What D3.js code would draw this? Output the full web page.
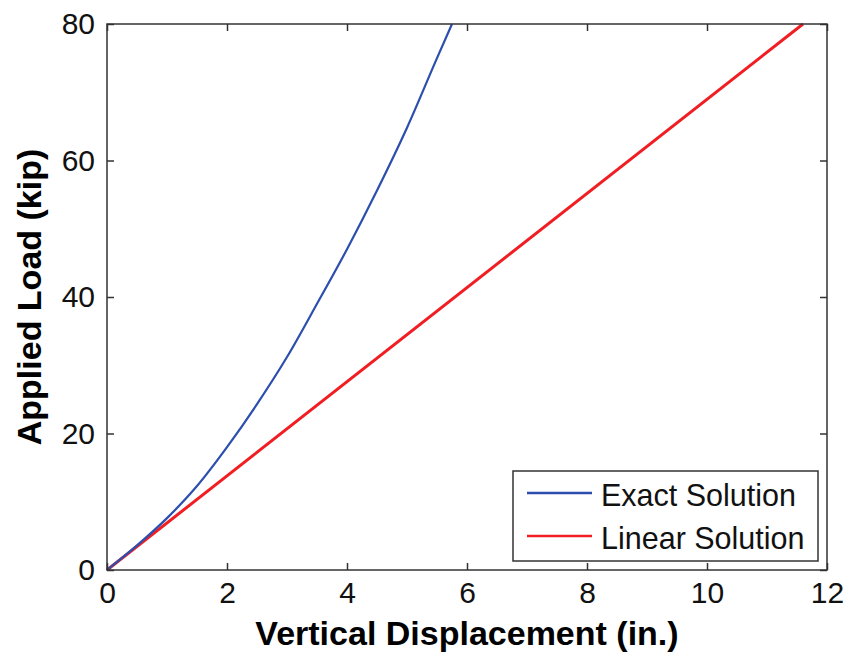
<!DOCTYPE html>
<html>
<head>
  <meta charset="utf-8">
  <script src="https://d3js.org/d3.v7.min.js"></script>
  <style>
    body { margin: 0; }
    svg { display: block; }
  </style>
</head>
<body>
<svg width="848" height="655"></svg>

<script>
// data
var exactX = [0, 0.5, 1.0, 1.5, 2.0, 2.5, 3.0, 3.5, 4.0, 4.5, 5.0, 5.5, 5.75];
var exactLoad = [0, 3.6, 7.6, 12.3, 18.0, 24.3, 31.2, 39.0, 47.0, 55.6, 64.8, 75.0, 80.0];
var linearX = [0, 11.6];
var linearLoad = [0, 80];
var xTicks = [0, 2, 4, 6, 8, 10, 12];
var yTicks = [0, 20, 40, 60, 80];
var seriesNames = ["Exact Solution", "Linear Solution"];
var seriesColors = ["#2c4fae", "#f01e23"];

var svg = d3.select("svg");
var plotL = 107, plotR = 827, plotT = 24, plotB = 570;
var font = "'Liberation Sans', Arial, sans-serif";

var x = d3.scaleLinear().domain([0, 12]).range([plotL, plotR]);
var y = d3.scaleLinear().domain([0, 80]).range([plotB, plotT]);

svg.append("rect").attr("width", 848).attr("height", 655).attr("fill", "white");

// lines
var line = d3.line()
  .x(function(d){ return x(d[0]); })
  .y(function(d){ return y(d[1]); });

var exactData = exactX.map(function(v, i){ return [v, exactLoad[i]]; });
var linearData = linearX.map(function(v, i){ return [v, linearLoad[i]]; });

svg.append("path").datum(linearData)
  .attr("d", line)
  .attr("fill", "none")
  .attr("stroke", seriesColors[1])
  .attr("stroke-width", 3);

svg.append("path").datum(exactData)
  .attr("d", line.curve(d3.curveMonotoneX))
  .attr("fill", "none")
  .attr("stroke", seriesColors[0])
  .attr("stroke-width", 2.2);

// axes - ticks pointing inward on all four sides
function styleAxis(g) {
  g.selectAll("path").remove();
  g.selectAll("line").attr("stroke", "#333").attr("stroke-width", 1.5);
  g.selectAll("text").attr("font-family", font).attr("font-size", "30px").attr("fill", "#111");
}

svg.append("g").attr("transform", "translate(0," + plotB + ")")
  .call(d3.axisBottom(x).tickValues(xTicks).tickSize(-7).tickPadding(12).tickFormat(d3.format("d")))
  .call(styleAxis);
svg.append("g").attr("transform", "translate(0," + plotT + ")")
  .call(d3.axisTop(x).tickValues(xTicks).tickSize(-7).tickFormat(""))
  .call(styleAxis);
svg.append("g").attr("transform", "translate(" + plotL + ",0)")
  .call(d3.axisLeft(y).tickValues(yTicks).tickSize(-7).tickPadding(12).tickFormat(d3.format("d")))
  .call(styleAxis);
svg.append("g").attr("transform", "translate(" + plotR + ",0)")
  .call(d3.axisRight(y).tickValues(yTicks).tickSize(-7).tickFormat(""))
  .call(styleAxis);

svg.append("rect")
  .attr("x", plotL).attr("y", plotT)
  .attr("width", plotR - plotL).attr("height", plotB - plotT)
  .attr("fill", "none").attr("stroke", "#333").attr("stroke-width", 1.5);

// axis titles
svg.append("text")
  .attr("x", (plotL + plotR) / 2).attr("y", 645)
  .attr("text-anchor", "middle")
  .attr("font-family", font).attr("font-weight", "bold").attr("font-size", "34px")
  .text("Vertical Displacement (in.)");

svg.append("text")
  .attr("transform", "translate(41," + (plotT + plotB) / 2 + ") rotate(-90)")
  .attr("text-anchor", "middle")
  .attr("font-family", font).attr("font-weight", "bold").attr("font-size", "34px")
  .text("Applied Load (kip)");

// legend
var legend = svg.append("g");
legend.append("rect")
  .attr("x", 513).attr("y", 471).attr("width", 305).attr("height", 90)
  .attr("fill", "white").attr("stroke", "#333").attr("stroke-width", 1.5);

seriesNames.forEach(function(name, i){
  var ly = 493 + i * 43;
  legend.append("line")
    .attr("x1", 527).attr("x2", 592).attr("y1", ly).attr("y2", ly)
    .attr("stroke", seriesColors[i]).attr("stroke-width", 2.5);
  legend.append("text")
    .attr("x", 601).attr("y", ly + 13)
    .attr("font-family", font).attr("font-size", "30.5px").attr("fill", "#111")
    .text(name);
});
</script>
</body>
</html>
